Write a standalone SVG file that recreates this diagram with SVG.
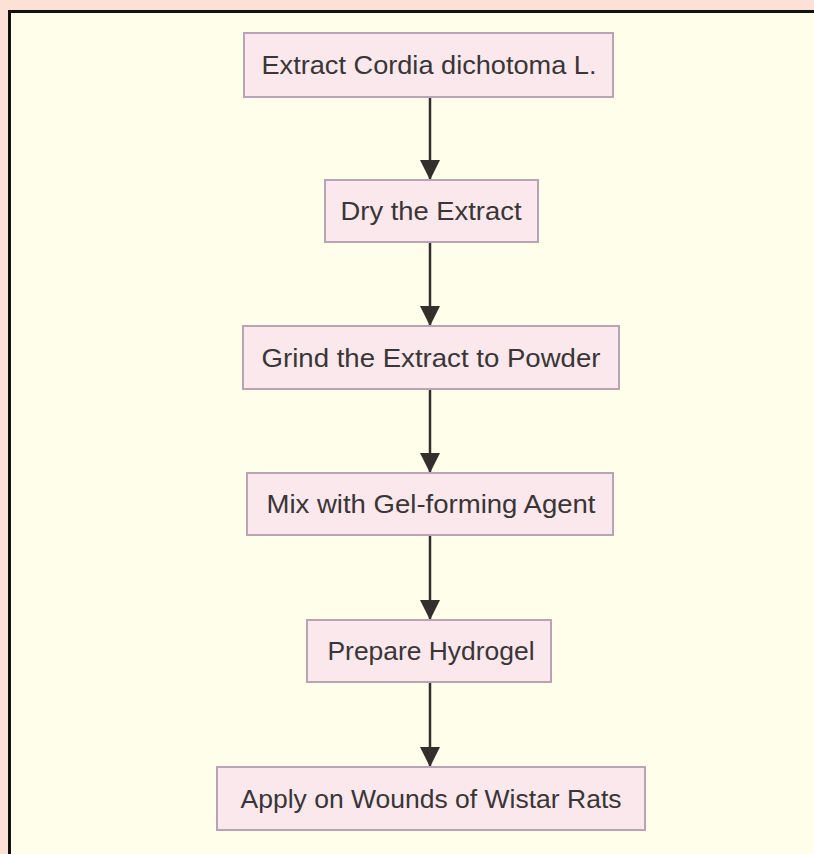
<svg xmlns="http://www.w3.org/2000/svg" width="814" height="854" viewBox="0 0 814 854">
<style>
.node rect{fill:#fbe8ec;stroke:#b9a3b6;stroke-width:2}
.node text{font-family:"Liberation Sans",Arial,sans-serif;font-size:25px;fill:#3a3536;text-anchor:middle}
.edge{stroke:#342f2d;stroke-width:2.5;fill:none}
</style>
<defs>
<marker id="arr" markerUnits="userSpaceOnUse" markerWidth="20" markerHeight="22" refX="20" refY="10" orient="auto" viewBox="0 0 20 20">
<path d="M0,0 L20,10 L0,20 z" fill="#342f2d"/>
</marker>
</defs>
<rect x="0" y="0" width="814" height="854" fill="#fde0d6"/>
<rect x="9.5" y="11.5" width="900" height="900" fill="#fffeea" stroke="#111" stroke-width="3"/>
<g id="connectors">
<line class="edge" x1="430" y1="97" x2="430" y2="180" marker-end="url(#arr)"/>
<line class="edge" x1="430" y1="242" x2="430" y2="326" marker-end="url(#arr)"/>
<line class="edge" x1="430" y1="389" x2="430" y2="473" marker-end="url(#arr)"/>
<line class="edge" x1="430" y1="535" x2="430" y2="620" marker-end="url(#arr)"/>
<line class="edge" x1="430" y1="682" x2="430" y2="767" marker-end="url(#arr)"/>
</g>
<g id="n1" class="node"><rect x="244" y="33" width="369" height="64"/><text x="429" y="73.5" textLength="335" lengthAdjust="spacingAndGlyphs">Extract Cordia dichotoma L.</text></g>
<g id="n2" class="node"><rect x="325" y="180" width="213" height="62"/><text x="431" y="219.5" textLength="181" lengthAdjust="spacingAndGlyphs">Dry the Extract</text></g>
<g id="n3" class="node"><rect x="243" y="326" width="376" height="63"/><text x="431" y="366.5" textLength="339" lengthAdjust="spacingAndGlyphs">Grind the Extract to Powder</text></g>
<g id="n4" class="node"><rect x="247" y="473" width="366" height="62"/><text x="431" y="512.5" textLength="329" lengthAdjust="spacingAndGlyphs">Mix with Gel-forming Agent</text></g>
<g id="n5" class="node"><rect x="307" y="620" width="244" height="62"/><text x="431" y="659.5" textLength="207" lengthAdjust="spacingAndGlyphs">Prepare Hydrogel</text></g>
<g id="n6" class="node"><rect x="217" y="767" width="428" height="63"/><text x="431" y="807.5" textLength="381" lengthAdjust="spacingAndGlyphs">Apply on Wounds of Wistar Rats</text></g>
</svg>
